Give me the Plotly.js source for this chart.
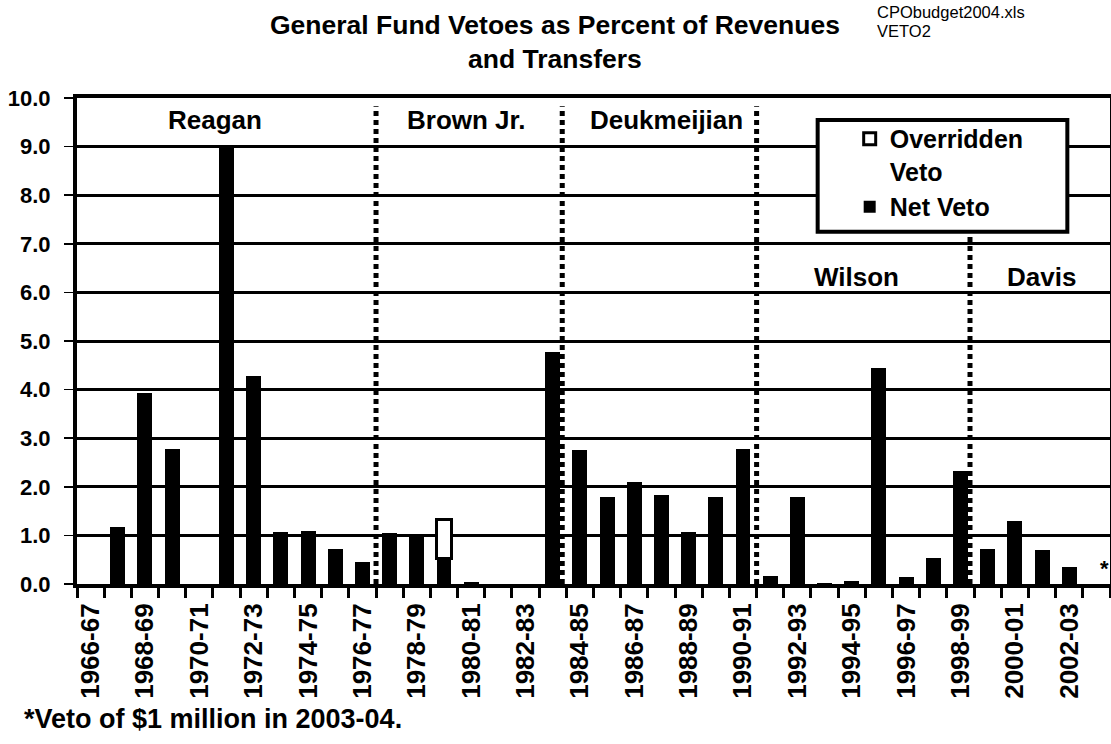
<!DOCTYPE html>
<html>
<head>
<meta charset="utf-8">
<script src="https://cdn.plot.ly/plotly-3.0.1.min.js"></script>
<style>
  html, body { margin: 0; padding: 0; background: #fff; }
  #plotArea { width: 1111px; height: 744px; }
</style>
</head>
<body>
<div id="plotArea"></div>
<script>
// fiscal years, 1966-67 through 2003-04
var years = ["1966-67", "1967-68", "1968-69", "1969-70", "1970-71", "1971-72", "1972-73", "1973-74",
    "1974-75", "1975-76", "1976-77", "1977-78", "1978-79", "1979-80", "1980-81", "1981-82",
    "1982-83", "1983-84", "1984-85", "1985-86", "1986-87", "1987-88", "1988-89", "1989-90",
    "1990-91", "1991-92", "1992-93", "1993-94", "1994-95", "1995-96", "1996-97", "1997-98",
    "1998-99", "1999-00", "2000-01", "2001-02", "2002-03", "2003-04"];

// percent of revenues and transfers
var netVeto = [0, 1.17, 3.92, 2.78, 0, 9.0, 4.27, 1.06,
    1.10, 0.72, 0.45, 1.04, 1.02, 0.52, 0.05, 0,
    0, 4.78, 2.76, 1.80, 2.10, 1.83, 1.06, 1.79,
    2.78, 0.17, 1.79, 0.02, 0.07, 4.45, 0.15, 0.54,
    2.32, 0.72, 1.29, 0.69, 0.34, 0];

// only 1979-80 had an override (null = no bar)
var overriddenVeto = [null, null, null, null, null, null, null, null,
    null, null, null, null, null, 0.80, null, null,
    null, null, null, null, null, null, null, null,
    null, null, null, null, null, null, null, null,
    null, null, null, null, null, null];

// only every other year gets a label
var tickLabels = years.map(function(y, i) {
    return i % 2 === 0 ? y : "";
});

var governors = ["Reagan", "Brown Jr.", "Deukmeijian", "Wilson", "Davis"];

var fam = "Liberation Sans, Arial, sans-serif";
function bold(size) {
    return {family: fam, color: "black", weight: "bold", size: size};
}

var traceNet = {
    x: years,
    y: netVeto,
    type: "bar",
    name: "Net Veto",
    marker: {color: "black", line: {color: "black", width: 0}},
    hoverinfo: "x+y"
};

var traceOver = {
    x: years,
    y: overriddenVeto,
    type: "bar",
    name: "Overridden<br>Veto",
    marker: {color: "white", line: {color: "black", width: 3}},
    hoverinfo: "x+y"
};

var dotted = {color: "black", width: 5, dash: "5px,4px"};

var layout = {
    width: 1111,
    height: 744,
    margin: {l: 77, r: 1, t: 98, b: 160, pad: 0},
    paper_bgcolor: "white",
    plot_bgcolor: "white",
    font: {family: fam, color: "black"},
    barmode: "stack",
    bargap: 0.45,
    showlegend: true,
    title: {
        text: "General Fund Vetoes as Percent of Revenues<br>and Transfers",
        font: bold(26.5),
        xref: "container", yref: "container",
        x: 0.4995, xanchor: "center",
        y: 1 - 34 / 744, yanchor: "top"
    },
    xaxis: {
        type: "category",
        range: [-0.5, 37.5],
        tickmode: "array",
        tickvals: years,
        ticktext: tickLabels,
        tickangle: -90,
        tickfont: bold(26),
        ticks: "outside",
        tickson: "boundaries",
        ticklen: 10,
        tickwidth: 3,
        tickcolor: "black",
        ticklabelstandoff: 5,
        showline: true,
        linewidth: 4,
        linecolor: "black",
        mirror: true,
        showgrid: false,
        zeroline: false,
        fixedrange: true
    },
    yaxis: {
        range: [0, 10],
        tick0: 0,
        dtick: 1,
        tickformat: ".1f",
        tickfont: bold(22),
        ticks: "outside",
        ticklen: 9,
        tickwidth: 1.5,
        tickcolor: "black",
        ticklabelstandoff: 9,
        showline: true,
        linewidth: 4,
        linecolor: "black",
        mirror: true,
        showgrid: true,
        gridcolor: "black",
        gridwidth: 3,
        zeroline: false,
        fixedrange: true
    },
    legend: {
        x: 0.748, xanchor: "left",
        y: 0.963, yanchor: "top",
        valign: "top",
        bgcolor: "rgba(0,0,0,0)",
        borderwidth: 0,
        traceorder: "reversed",
        tracegroupgap: 0,
        font: bold(25)
    },
    shapes: [
        {type: "line", xref: "x", yref: "y", x0: 10.5, x1: 10.5, y0: 0, y1: 9.83, line: dotted, layer: "above"},
        {type: "line", xref: "x", yref: "y", x0: 17.35, x1: 17.35, y0: 0, y1: 9.83, line: dotted, layer: "above"},
        {type: "line", xref: "x", yref: "y", x0: 24.5, x1: 24.5, y0: 0, y1: 9.83, line: dotted, layer: "above"},
        {type: "line", xref: "x", yref: "y", x0: 32.35, x1: 32.35, y0: 0, y1: 7.15, line: dotted, layer: "above"},
        // legend frame
        {type: "rect", xref: "paper", yref: "paper", x0: 0.717, x1: 0.9587, y0: 0.7246, y1: 0.9547,
            fillcolor: "white", line: {color: "black", width: 4}, layer: "above"}
    ],
    annotations: [
        {text: governors[0], xref: "x", yref: "y", x: 4.59, y: 9.55, showarrow: false, font: bold(26)},
        {text: governors[1], xref: "x", yref: "y", x: 13.8, y: 9.55, showarrow: false, font: bold(26)},
        {text: governors[2], xref: "x", yref: "y", x: 21.17, y: 9.55, showarrow: false, font: bold(26)},
        {text: governors[3], xref: "x", yref: "y", x: 28.16, y: 6.32, showarrow: false, font: bold(26)},
        {text: governors[4], xref: "x", yref: "y", x: 34.97, y: 6.32, showarrow: false, font: bold(26)},
        {text: "*", xref: "x", yref: "y", x: 37.3, y: 0.32, showarrow: false, font: bold(22)},
        {text: "*Veto of $1 million in 2003-04.", xref: "paper", yref: "paper",
            x: -0.0532, xanchor: "left", y: -0.277, yanchor: "middle", showarrow: false, font: bold(27)},
        {text: "CPObudget2004.xls", xref: "paper", yref: "paper",
            x: (876 - 77) / 1034, xanchor: "left", y: (583.5 - 12) / 485.5, yanchor: "middle", showarrow: false,
            font: {family: fam, size: 16.5, color: "black"}},
        {text: "VETO2", xref: "paper", yref: "paper",
            x: (876 - 77) / 1034, xanchor: "left", y: (583.5 - 31) / 485.5, yanchor: "middle", showarrow: false,
            font: {family: fam, size: 16.5, color: "black"}}
    ]
};

Plotly.newPlot("plotArea", [traceNet, traceOver], layout, {displayModeBar: false, staticPlot: true});
</script>
</body>
</html>
